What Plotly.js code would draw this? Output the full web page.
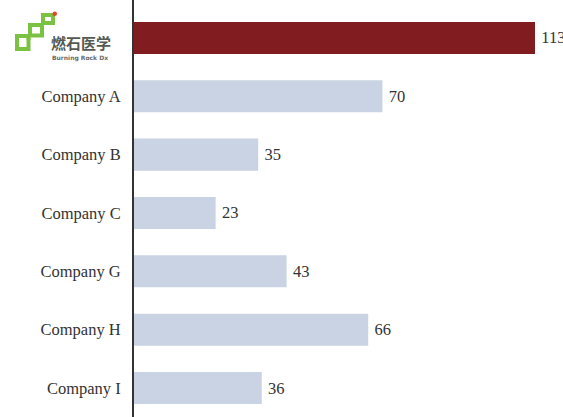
<!DOCTYPE html>
<html>
<head>
<meta charset="utf-8">
<script src="https://cdn.plot.ly/plotly-3.0.1.min.js"></script>
<style>html,body{margin:0;padding:0;background:#fff;}#chart{width:563px;height:417px;}</style>
</head>
<body>
<div id="chart"></div>
<script>
const categories = ["燃石医学", "Company A", "Company B", "Company C", "Company G", "Company H", "Company I"];
const values = [113, 70, 35, 23, 43, 66, 36];
const tickLabels = ["", "Company A", "Company B", "Company C", "Company G", "Company H", "Company I"];
const highlight = "燃石医学";

const W = 563, H = 417, L = 134, R = 0, T = 0, B = 0;
const pw = W - L - R, ph = H - T - B;
const px = x => (x - L) / pw;
const py = y => 1 - (y - T) / ph;

const colors = categories.map(c => c === highlight ? "#811d20" : "#c9d3e3");
const serif = "Liberation Serif, Times New Roman, serif";

const trace = {
  type: "bar",
  orientation: "h",
  y: categories,
  x: values,
  marker: {color: colors, line: {width: 0}},
  text: values.map(v => "\u2009" + v),
  textposition: "outside",
  textfont: {family: serif, size: 16.5, color: "#333"},
  cliponaxis: false,
  hoverinfo: "none"
};

const green = "#7cc242";
function rect(x0, y0, x1, y1) {
  return {type: "rect", xref: "paper", yref: "paper", x0: px(x0), x1: px(x1), y0: py(y1), y1: py(y0),
          line: {color: green, width: 4}, fillcolor: "rgba(0,0,0,0)", layer: "above"};
}
function seg(x0, y0, x1, y1) {
  return {type: "line", xref: "paper", yref: "paper", x0: px(x0), x1: px(x1), y0: py(y0), y1: py(y1),
          line: {color: green, width: 4}, layer: "above"};
}

const shapes = [
  rect(17, 36, 28.5, 49),
  rect(30, 25, 42, 35.5),
  rect(43, 15, 53, 23),
  seg(28.5, 35.5, 28.5, 40),
  seg(28.5, 35.5, 30, 35.5),
  seg(42, 23, 42, 27),
  seg(42, 23, 43, 23),
  {type: "circle", xref: "paper", yref: "paper", x0: px(52.5), x1: px(57), y0: py(16), y1: py(11.5),
   fillcolor: "#e8432b", line: {width: 0}, layer: "above"}
];

const annotations = [
  {xref: "paper", yref: "paper", x: px(48.5), y: py(42.5), xanchor: "left", yanchor: "middle",
   text: "<b>燃石医学</b>", showarrow: false,
   font: {family: "Noto Sans CJK SC", size: 15, color: "#545a52"}},
  {xref: "paper", yref: "paper", x: px(50), y: py(57.5), xanchor: "left", yanchor: "middle",
   text: "<b>Burning Rock Dx</b>", showarrow: false,
   font: {family: "DejaVu Sans", size: 6, color: "#6a6a6a"}}
];

const layout = {
  width: W, height: H,
  margin: {l: L, r: R, t: T, b: B, pad: 0},
  paper_bgcolor: "#fff", plot_bgcolor: "#fff",
  showlegend: false,
  bargap: 0.45,
  xaxis: {range: [0, 113 * pw / 401], showgrid: false, zeroline: false, showticklabels: false, showline: false, fixedrange: true},
  yaxis: {
    type: "category",
    categoryorder: "array", categoryarray: categories,
    tickmode: "array", tickvals: categories, ticktext: tickLabels,
    range: [6.497, -0.651],
    showgrid: false, zeroline: false,
    showline: true, linecolor: "#333", linewidth: 2,
    ticks: "", ticklabelstandoff: 8,
    tickfont: {family: serif, size: 16.5, color: "#333"},
    fixedrange: true
  },
  shapes: shapes,
  annotations: annotations
};

Plotly.newPlot("chart", [trace], layout, {displayModeBar: false, staticPlot: true});
</script>
</body>
</html>
